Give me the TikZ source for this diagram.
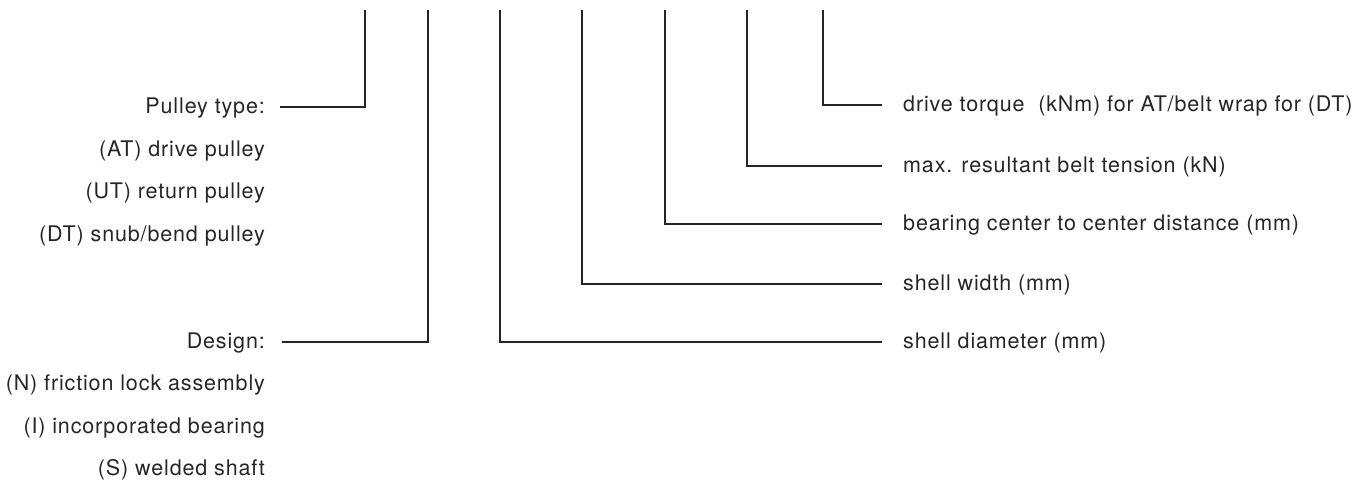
\documentclass[tikz,border=0pt]{standalone}
\usepackage{fontspec}
\setmainfont{TeX Gyre Heros}[LetterSpace=4]
\begin{document}
\begin{tikzpicture}[x=1pt,y=-1pt,
  lab/.style={inner sep=0pt, text height=15pt, text depth=2pt, text=black!85,
    font=\fontsize{21.5}{26}\selectfont},
  llab/.style={lab, anchor=east},
  rlab/.style={lab, anchor=west},
  lead/.style={draw=black!85, line width=1.1pt}]
\useasboundingbox (0,0) rectangle (1368,489);

% top ends of the code-position leaders
\coordinate (t1) at (365,10);
\coordinate (t2) at (428,10);
\coordinate (t3) at (500,10);
\coordinate (t4) at (582,10);
\coordinate (t5) at (665,10);
\coordinate (t6) at (747,10);
\coordinate (t7) at (823,10);

% left-hand legend: pulley type
\node[llab] (ptype) at (265,107) {Pulley type:};
\node[llab] (at)    at (265,150) {(AT) drive pulley};
\node[llab] (ut)    at (265,192) {(UT) return pulley};
\node[llab] (dt)    at (265,235) {(DT) snub/bend pulley};

% left-hand legend: design
\node[llab] (design) at (265,342) {Design:};
\node[llab] (n)      at (265,384) {(N) friction lock assembly};
\node[llab] (i)      at (265,427) {(I) incorporated bearing};
\node[llab] (s)      at (265,469) {(S) welded shaft};

% right-hand legend
\node[rlab] (torque)  at (903,105) {drive torque~ (kNm) for AT/belt wrap for (DT)};
\node[rlab] (tension) at (903,166) {max. resultant belt tension (kN)};
\node[rlab] (bearing) at (903,224) {bearing center to center distance (mm)};
\node[rlab] (width)   at (903,284) {shell width (mm)};
\node[rlab] (diam)    at (903,342) {shell diameter (mm)};

% leaders
\draw[lead] ([xshift=15pt]ptype.east) -| (t1);
\draw[lead] ([xshift=17pt]design.east) -| (t2);
\draw[lead] ([xshift=-21pt]diam.west) -| (t3);
\draw[lead] ([xshift=-21pt]width.west) -| (t4);
\draw[lead] ([xshift=-21pt]bearing.west) -| (t5);
\draw[lead] ([xshift=-21pt]tension.west) -| (t6);
\draw[lead] ([xshift=-21pt]torque.west) -| (t7);
\end{tikzpicture}
\end{document}
